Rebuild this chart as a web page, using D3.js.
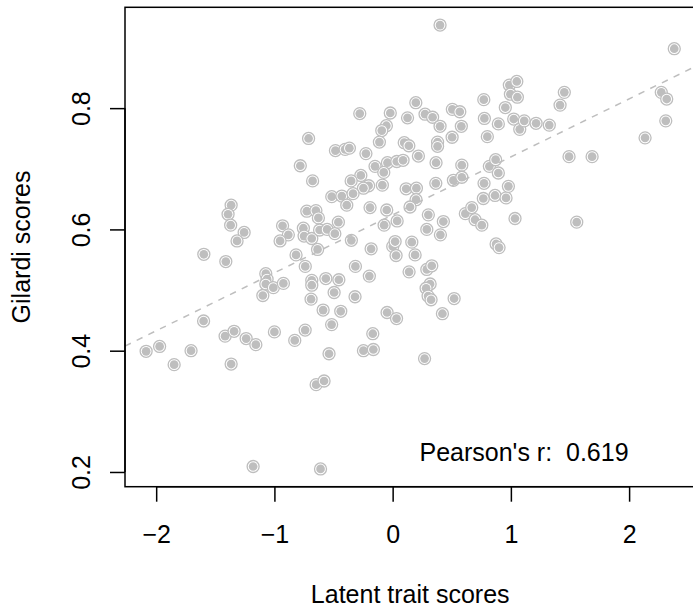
<!DOCTYPE html>
<html>
<head>
<meta charset="utf-8">
<script src="https://cdn.jsdelivr.net/npm/d3@7"></script>
<style>
  body { margin: 0; background: #fff; }
  svg { display: block; font-family: "Liberation Sans", Arial, Helvetica, sans-serif; }
</style>
</head>
<body>
<div id="chart"></div>
<script>
// values, one entry per respondent
const latentScores = [
  -2.085, -1.971, -1.848, -1.705, -1.597, -1.599, -1.411, -1.417, -1.366, -1.392,
  -1.370, -1.256, -1.316, -1.341, -1.239, -1.157, -1.366, -1.180, -0.931, -0.882,
  -0.952, -0.817, -1.073, -1.062, -1.073, -1.009, -0.924, -1.098, -1.000, -0.828,
  -0.781, -0.711, -0.677, -0.726, -0.649, -0.628, -0.755, -0.749, -0.684, -0.618,
  -0.554, -0.489, -0.459, -0.635, -0.739, -0.684, -0.565, -0.455, -0.684, -0.495,
  -0.690, -0.588, -0.439, -0.516, -0.740, -0.538, -0.647, -0.580, -0.610, -0.515,
  -0.430, -0.484, -0.402, -0.366, -0.278, -0.020, -0.053, -0.092, -0.112, -0.226,
  -0.149, -0.044, 0.035, -0.075, -0.269, -0.351, -0.203, -0.087, -0.247, -0.335,
  -0.388, -0.191, -0.050, 0.038, -0.072, -0.349, -0.182, 0.001, 0.021, 0.029,
  -0.315, -0.197, -0.318, -0.047, 0.033, -0.168, -0.247, -0.163, 0.401, 0.196,
  0.126, 0.274, 0.338, 0.401, 0.505, 0.568, 0.581, 0.503, 0.098, 0.137,
  0.380, 0.380, 0.218, 0.367, 0.585, 0.088, 0.114, 0.201, 0.198, 0.147,
  0.365, 0.514, 0.585, 0.302, 0.429, 0.289, 0.404, 0.162, 0.190, 0.139,
  0.289, 0.331, 0.317, 0.283, 0.300, 0.325, 0.520, 0.421, 0.270, 0.615,
  0.669, 0.697, 0.754, 0.773, 0.767, 0.866, 0.959, 0.979, 0.818, 0.871,
  0.894, 0.875, 0.900, 1.035, 0.771, 0.953, 0.987, 1.050, 0.996, 1.055,
  0.776, 0.894, 1.024, 1.075, 1.113, 0.801, 1.213, 1.325, 1.452, 1.416,
  1.492, 1.687, 1.557, 2.135, 2.272, 2.318, 2.310, 2.382
]

const gilardiScores = [
  0.399, 0.407, 0.377, 0.400, 0.559, 0.449, 0.547, 0.424, 0.640, 0.625,
  0.607, 0.595, 0.581, 0.432, 0.420, 0.410, 0.378, 0.209, 0.606, 0.591,
  0.581, 0.558, 0.527, 0.518, 0.510, 0.504, 0.511, 0.491, 0.431, 0.417,
  0.705, 0.750, 0.680, 0.630, 0.631, 0.619, 0.602, 0.589, 0.585, 0.599,
  0.600, 0.593, 0.612, 0.567, 0.539, 0.516, 0.519, 0.517, 0.508, 0.496,
  0.485, 0.467, 0.465, 0.443, 0.434, 0.395, 0.344, 0.350, 0.205, 0.654,
  0.655, 0.730, 0.732, 0.734, 0.791, 0.792, 0.771, 0.763, 0.744, 0.725,
  0.704, 0.710, 0.712, 0.694, 0.689, 0.680, 0.672, 0.673, 0.668, 0.659,
  0.640, 0.636, 0.632, 0.614, 0.607, 0.582, 0.568, 0.572, 0.580, 0.557,
  0.539, 0.523, 0.489, 0.463, 0.453, 0.428, 0.400, 0.402, 0.937, 0.809,
  0.784, 0.790, 0.785, 0.770, 0.798, 0.794, 0.770, 0.752, 0.743, 0.738,
  0.744, 0.737, 0.721, 0.710, 0.706, 0.714, 0.667, 0.668, 0.649, 0.637,
  0.676, 0.681, 0.686, 0.624, 0.613, 0.600, 0.591, 0.579, 0.558, 0.530,
  0.534, 0.540, 0.510, 0.503, 0.490, 0.484, 0.486, 0.461, 0.387, 0.626,
  0.636, 0.616, 0.607, 0.676, 0.651, 0.656, 0.652, 0.671, 0.704, 0.715,
  0.693, 0.576, 0.570, 0.618, 0.814, 0.801, 0.838, 0.844, 0.823, 0.818,
  0.783, 0.774, 0.782, 0.765, 0.779, 0.753, 0.775, 0.772, 0.826, 0.805,
  0.720, 0.720, 0.612, 0.751, 0.826, 0.815, 0.779, 0.898
]

const xTicks = [-2, -1, 0, 1, 2]
const yTicks = [0.2, 0.4, 0.6, 0.8]

// dashed least-squares line
const fitIntercept = 0.624
const fitSlope = 0.0956
const pearsonR = 0.619

const xTitle = "Latent trait scores"
const yTitle = "Gilardi scores"

// 1. dimensions
let dimensions = {
  width: 693,
  height: 607,
  margin: {
    top: 7.3,
    right: -2.4,
    bottom: 120.3,
    left: 125,
  },
}
dimensions.boundedWidth = dimensions.width
  - dimensions.margin.left
  - dimensions.margin.right
dimensions.boundedHeight = dimensions.height
  - dimensions.margin.top
  - dimensions.margin.bottom

const fontSize = 25
const pointColor = "#bebebe"

const dataset = latentScores.map((x, i) => ({x: x, y: gilardiScores[i]}))

// R pads the data range by 4% on each side
function padded(values) {
  const [lo, hi] = d3.extent(values)
  const pad = (hi - lo) * 0.04
  return [lo - pad, hi + pad]
}

// 2. scales
const xScale = d3.scaleLinear()
  .domain(padded(latentScores))
  .range([0, dimensions.boundedWidth])

const yScale = d3.scaleLinear()
  .domain(padded(gilardiScores))
  .range([dimensions.boundedHeight, 0])

// 3. canvas
const svg = d3.select("#chart")
  .append("svg")
    .attr("width", dimensions.width)
    .attr("height", dimensions.height)
    .style("background", "#fff")

const bounds = svg.append("g")
    .attr("transform", `translate(${dimensions.margin.left},${dimensions.margin.top})`)

bounds.append("clipPath")
    .attr("id", "plot-area")
  .append("rect")
    .attr("width", dimensions.boundedWidth)
    .attr("height", dimensions.boundedHeight)

// 4. points: grey ring, white gap, grey disc
const points = bounds.append("g")
  .selectAll("g")
  .data(dataset)
  .enter().append("g")
    .attr("transform", d => `translate(${xScale(d.x)},${yScale(d.y)})`)

points.append("circle")
    .attr("r", 6)
    .attr("fill", "#fff")
    .attr("stroke", pointColor)
    .attr("stroke-width", 1.3)

points.append("circle")
    .attr("r", 4.35)
    .attr("fill", pointColor)

// regression line
const [x0, x1] = xScale.domain()
bounds.append("line")
    .attr("clip-path", "url(#plot-area)")
    .attr("x1", xScale(x0))
    .attr("y1", yScale(fitIntercept + fitSlope * x0))
    .attr("x2", xScale(x1))
    .attr("y2", yScale(fitIntercept + fitSlope * x1))
    .attr("stroke", pointColor)
    .attr("stroke-width", 1.5)
    .attr("stroke-dasharray", "6.5,6.5")

// 5. axes
const minus = d => d < 0 ? "\u2212" + Math.abs(d) : String(d)

const xAxis = bounds.append("g")
    .attr("transform", `translate(0,${dimensions.boundedHeight})`)
    .call(d3.axisBottom(xScale)
      .tickValues(xTicks)
      .tickFormat(minus)
      .tickSize(15)
      .tickSizeOuter(0))

xAxis.select(".domain")
    .attr("d", `M${xScale(xTicks[0])},0H${xScale(xTicks[xTicks.length - 1])}`)

xAxis.selectAll("text")
    .attr("y", 56)
    .attr("dy", null)

const yAxis = bounds.append("g")
    .call(d3.axisLeft(yScale)
      .tickValues(yTicks)
      .tickFormat(d3.format(".1f"))
      .tickSize(15)
      .tickSizeOuter(0))

yAxis.select(".domain")
    .attr("d", `M0,${yScale(yTicks[0])}V${yScale(yTicks[yTicks.length - 1])}`)

yAxis.selectAll("text")
    .attr("transform", "rotate(-90)")
    .attr("text-anchor", "middle")
    .attr("x", 0)
    .attr("y", -35)
    .attr("dy", null)

svg.selectAll(".tick line, .domain")
    .attr("stroke", "#000")
    .attr("stroke-width", 1.5)

svg.selectAll(".tick text")
    .attr("fill", "#000")
    .attr("font-size", fontSize)
    .attr("font-family", null)

// box around the plot region
bounds.append("rect")
    .attr("width", dimensions.boundedWidth)
    .attr("height", dimensions.boundedHeight)
    .attr("fill", "none")
    .attr("stroke", "#000")
    .attr("stroke-width", 1.5)

// 6. labels
svg.append("text")
    .attr("x", dimensions.margin.left + dimensions.boundedWidth / 2)
    .attr("y", 602.7)
    .attr("text-anchor", "middle")
    .attr("font-size", fontSize)
    .text(xTitle)

svg.append("text")
    .attr("transform", `translate(30,${dimensions.margin.top + dimensions.boundedHeight / 2}) rotate(-90)`)
    .attr("text-anchor", "middle")
    .attr("font-size", fontSize)
    .text(yTitle)

svg.append("text")
    .attr("x", 419.5)
    .attr("y", 460.7)
    .attr("font-size", fontSize)
    .style("white-space", "pre")
    .text(`Pearson's r:  ${pearsonR.toFixed(3)}`)
</script>
</body>
</html>
